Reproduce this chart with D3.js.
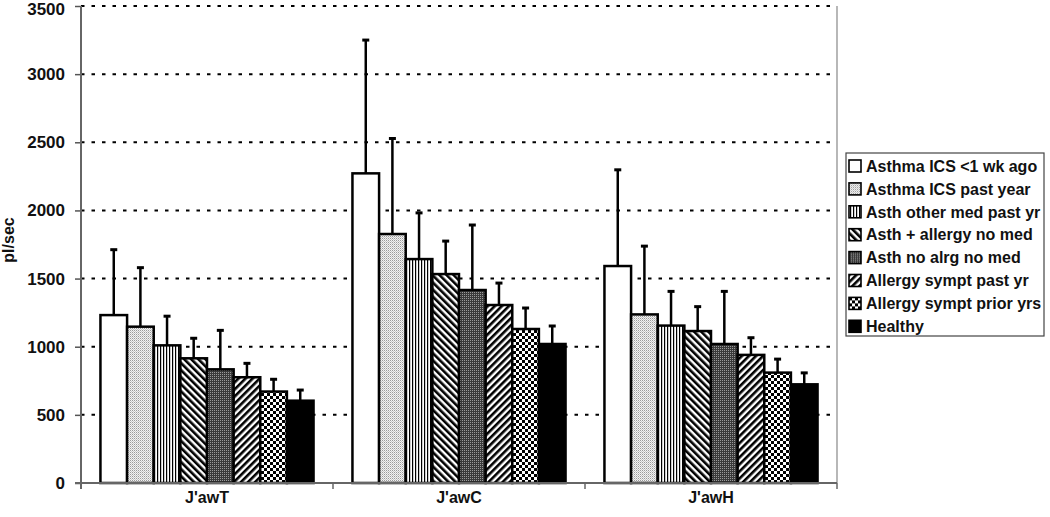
<!DOCTYPE html>
<html>
<head>
<meta charset="utf-8">
<script src="https://cdn.jsdelivr.net/npm/d3@7"></script>
<style>
  body { margin: 0; background: #fff; }
  text { font-family: "Liberation Sans", Arial, sans-serif; font-weight: bold; fill: #111; }
</style>
</head>
<body>
<div id="chart"></div>
<script>
// categories and series
const groups = ["J'awT", "J'awC", "J'awH"];
const series = ["Asthma ICS <1 wk ago", "Asthma ICS past year", "Asth other med past yr",
    "Asth + allergy no med", "Asth no alrg no med", "Allergy sympt past yr",
    "Allergy sympt prior yrs", "Healthy"];

// bar heights (pl/sec), one array per group, in series order
const meanT = [1232, 1147, 1010, 915, 834, 776, 671, 604];
const meanC = [2272, 1827, 1643, 1533, 1416, 1306, 1130, 1020];
const meanH = [1592, 1237, 1155, 1115, 1020, 940, 810, 724];
// top of the error bars
const upperT = [1712, 1580, 1224, 1062, 1120, 878, 761, 682];
const upperC = [3250, 2528, 1982, 1775, 1893, 1467, 1284, 1152];
const upperH = [2298, 1738, 1406, 1294, 1406, 1066, 909, 808];

const yTicks = [0, 500, 1000, 1500, 2000, 2500, 3000, 3500];

const means = [meanT, meanC, meanH];
const uppers = [upperT, upperC, upperH];
const rows = [];
groups.forEach((g, gi) => {
    series.forEach((s, si) => {
        rows.push({ group: g, series: s, si: si, value: means[gi][si], upper: uppers[gi][si] });
    });
});

const W = 1050, H = 517;
const plotL = 81, plotR = 837, plotT = 6, plotB = 483;

const svg = d3.select("#chart").append("svg")
    .attr("width", W).attr("height", H);

// fill patterns
const defs = svg.append("defs");
function pat(id, w, h, transform) {
    const p = defs.append("pattern").attr("id", id)
        .attr("patternUnits", "userSpaceOnUse")
        .attr("width", w).attr("height", h);
    if (transform) p.attr("patternTransform", transform);
    return p;
}
let p;
p = pat("p1", 4, 4);
p.append("rect").attr("width", 4).attr("height", 4).attr("fill", "#fff");

p = pat("p2", 2, 2);
p.append("rect").attr("width", 2).attr("height", 2).attr("fill", "#f2f2f2");
p.append("rect").attr("width", 1).attr("height", 1).attr("fill", "#9a9a9a");
p.append("rect").attr("x", 1).attr("y", 1).attr("width", 1).attr("height", 1).attr("fill", "#c8c8c8");

p = pat("p3", 3, 3);
p.append("rect").attr("width", 3).attr("height", 3).attr("fill", "#fff");
p.append("rect").attr("x", 1).attr("width", 1.2).attr("height", 3).attr("fill", "#000");

p = pat("p4", 5, 5, "rotate(-45)");
p.append("rect").attr("width", 5).attr("height", 5).attr("fill", "#fff");
p.append("rect").attr("width", 2.6).attr("height", 5).attr("fill", "#000");

p = pat("p5", 2, 2);
p.append("rect").attr("width", 2).attr("height", 2).attr("fill", "#3a3a3a");
p.append("rect").attr("width", 1).attr("height", 1).attr("fill", "#9a9a9a");

p = pat("p6", 5, 5, "rotate(45)");
p.append("rect").attr("width", 5).attr("height", 5).attr("fill", "#fff");
p.append("rect").attr("width", 2.6).attr("height", 5).attr("fill", "#000");

p = pat("p7", 6, 6);
p.append("rect").attr("width", 6).attr("height", 6).attr("fill", "#fff");
p.append("rect").attr("width", 3).attr("height", 3).attr("fill", "#000");
p.append("rect").attr("x", 3).attr("y", 3).attr("width", 3).attr("height", 3).attr("fill", "#000");

p = pat("p8", 4, 4);
p.append("rect").attr("width", 4).attr("height", 4).attr("fill", "#000");

const fills = series.map((s, i) => `url(#p${i + 1})`);

// scales
const x0 = d3.scaleBand().domain(groups).range([plotL, plotR]).paddingInner(0).paddingOuter(0);
const x1 = d3.scaleBand().domain(d3.range(series.length))
    .range([0, x0.bandwidth()]).paddingInner(0).paddingOuter(0.73);
const y = d3.scaleLinear().domain([0, 3500]).range([plotB, plotT]);

// dotted grid lines
svg.append("g").selectAll("line")
    .data(yTicks.filter(d => d > 0))
    .enter().append("line")
    .attr("x1", plotL).attr("x2", plotR)
    .attr("y1", d => y(d)).attr("y2", d => y(d))
    .attr("stroke", "#000").attr("stroke-width", 2)
    .attr("stroke-dasharray", "3.5,7");

// right border of plot area
svg.append("line")
    .attr("x1", plotR).attr("x2", plotR).attr("y1", plotT).attr("y2", plotB)
    .attr("stroke", "#888").attr("stroke-width", 1.2);

// bars
svg.append("g").selectAll("rect")
    .data(rows)
    .enter().append("rect")
    .attr("x", d => x0(d.group) + x1(d.si))
    .attr("y", d => y(d.value))
    .attr("width", x1.bandwidth())
    .attr("height", d => y(0) - y(d.value))
    .attr("fill", d => fills[d.si])
    .attr("stroke", "#000").attr("stroke-width", 2.5);

// error bars
const err = svg.append("g");
err.selectAll(".stem")
    .data(rows)
    .enter().append("line")
    .attr("class", "stem")
    .attr("x1", d => x0(d.group) + x1(d.si) + x1.bandwidth() / 2)
    .attr("x2", d => x0(d.group) + x1(d.si) + x1.bandwidth() / 2)
    .attr("y1", d => y(d.value))
    .attr("y2", d => y(d.upper))
    .attr("stroke", "#000").attr("stroke-width", 2.5);
err.selectAll(".cap")
    .data(rows)
    .enter().append("line")
    .attr("class", "cap")
    .attr("x1", d => x0(d.group) + x1(d.si) + x1.bandwidth() / 2 - 3.5)
    .attr("x2", d => x0(d.group) + x1(d.si) + x1.bandwidth() / 2 + 3.5)
    .attr("y1", d => y(d.upper))
    .attr("y2", d => y(d.upper))
    .attr("stroke", "#000").attr("stroke-width", 3);

// y axis
const yAxis = svg.append("g")
    .attr("transform", `translate(${plotL},0)`)
    .call(d3.axisLeft(y).tickValues(yTicks).tickSize(6).tickPadding(10).tickFormat(d3.format("d")));
yAxis.select(".domain").remove();
yAxis.selectAll(".tick line").attr("stroke", "#555").attr("stroke-width", 1.5);
yAxis.selectAll(".tick text").style("font-size", "17px").attr("fill", "#111")
    .attr("dy", d => d === 3500 ? "0.5em" : "0.32em");
svg.append("line")
    .attr("x1", plotL).attr("x2", plotL).attr("y1", plotT).attr("y2", plotB + 6)
    .attr("stroke", "#666").attr("stroke-width", 2);

// x axis
const xAxis = svg.append("g")
    .attr("transform", `translate(0,${plotB})`)
    .call(d3.axisBottom(x0).tickSize(0).tickPadding(9));
xAxis.select(".domain").remove();
xAxis.selectAll(".tick text").style("font-size", "16px").attr("fill", "#111");
svg.append("line")
    .attr("x1", plotL - 6).attr("x2", plotR).attr("y1", plotB).attr("y2", plotB)
    .attr("stroke", "#666").attr("stroke-width", 2);
svg.append("g").selectAll("line")
    .data(groups)
    .enter().append("line")
    .attr("x1", d => x0(d) + x0.bandwidth()).attr("x2", d => x0(d) + x0.bandwidth())
    .attr("y1", plotB).attr("y2", plotB + 6)
    .attr("stroke", "#666").attr("stroke-width", 1.5);

// y axis title
svg.append("text")
    .attr("transform", `translate(14,240) rotate(-90)`)
    .attr("text-anchor", "middle")
    .style("font-size", "16px")
    .text("pl/sec");

// legend
const lg = svg.append("g");
lg.append("rect")
    .attr("x", 846).attr("y", 153).attr("width", 198).attr("height", 183)
    .attr("fill", "#fff").attr("stroke", "#444").attr("stroke-width", 1.2);
const item = lg.selectAll(".item")
    .data(series)
    .enter().append("g")
    .attr("class", "item")
    .attr("transform", (d, i) => `translate(849,${166 + i * 22.9})`);
item.append("rect")
    .attr("x", 0).attr("y", -6).attr("width", 12).attr("height", 12)
    .attr("fill", (d, i) => fills[i])
    .attr("stroke", "#000").attr("stroke-width", 1.6);
item.append("text")
    .attr("x", 17).attr("y", 0).attr("dy", "0.36em")
    .style("font-size", "16px")
    .text(d => d);
</script>
</body>
</html>
